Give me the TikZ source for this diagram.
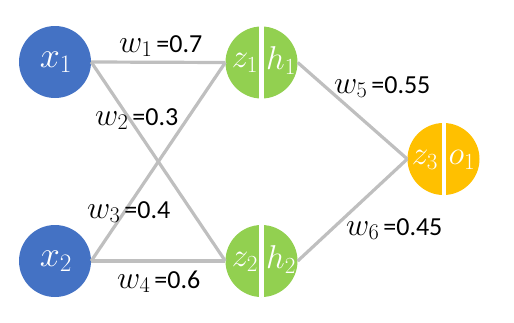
\RequirePackage{fix-cm}
\documentclass[tikz,border=0pt]{standalone}
\usepackage{fontspec}
\setmainfont{Carlito}
\definecolor{nblue}{HTML}{4472C4}
\definecolor{ngreen}{HTML}{92D050}
\definecolor{norange}{HTML}{FFC000}
\definecolor{ngray}{HTML}{BFBFBF}
\newcommand{\wlab}[2]{{\fontsize{32}{32}\selectfont$w_{#1}$}\hspace{4pt}{\fontsize{26}{26}\selectfont=#2}}
\begin{document}
\begin{tikzpicture}[x=1pt,y=-1pt,
  neuron/.style={circle,minimum size=72pt,inner sep=0pt,text=white},
  conn/.style={draw=ngray,line width=3.2pt},
  wlabel/.style={anchor=base west,inner sep=0pt},
  ntext/.style={text=white,inner sep=0pt,font=\fontsize{36}{36}\selectfont},
  htext/.style={text=white,inner sep=0pt,font=\fontsize{33}{33}\selectfont}]
\useasboundingbox (0,0) rectangle (514,322);
% neurons
\node[neuron,fill=nblue] (x1) at (55,62) {};
\node[neuron,fill=nblue] (x2) at (55,261) {};
\node[neuron,fill=ngreen] (h1) at (261.5,62.5) {};
\node[neuron,fill=ngreen] (h2) at (261.5,261) {};
\node[neuron,fill=norange] (o1) at (443.5,159) {};
% connectors
\draw[conn] (x1.east) -- (h1.west);
\draw[conn] (x1.east) -- (h2.west);
\draw[conn] (x2.east) -- (h1.west);
\draw[conn] (x2.east) -- (h2.west);
\draw[conn] (h1.east) -- (o1.west);
\draw[conn] (h2.east) -- (o1.west);
% dividers
\fill[white] ([xshift=-2.5pt]h1.north) rectangle ([xshift=2.5pt]h1.south);
\fill[white] ([xshift=-2.5pt]h2.north) rectangle ([xshift=2.5pt]h2.south);
\fill[white] ([xshift=-2pt]o1.north) rectangle ([xshift=2pt]o1.south);
% node texts
\node[ntext] (tx1) at (56,62) {$x_1$};
\node[ntext] (tx2) at (56,261) {$x_2$};
\node[htext] (tz1) at (245,63) {$z_1$};
\node[htext] (th1) at (281,61) {$h_1$};
\node[htext] (tz2) at (245,262) {$z_2$};
\node[htext] (th2) at (281,260) {$h_2$};
\node[htext] (tz3) at (425,160) {$z_3$};
\node[htext] (to1) at (462,160) {$o_1$};
% weight labels
\node[wlabel] (l1) at (119,52) {\wlab{1}{0.7}};
\node[wlabel] (l2) at (95,125) {\wlab{2}{0.3}};
\node[wlabel] (l3) at (87,218) {\wlab{3}{0.4}};
\node[wlabel] (l4) at (117,288) {\wlab{4}{0.6}};
\node[wlabel] (l5) at (334,93) {\wlab{5}{0.55}};
\node[wlabel] (l6) at (346,235) {\wlab{6}{0.45}};
\end{tikzpicture}
\end{document}
